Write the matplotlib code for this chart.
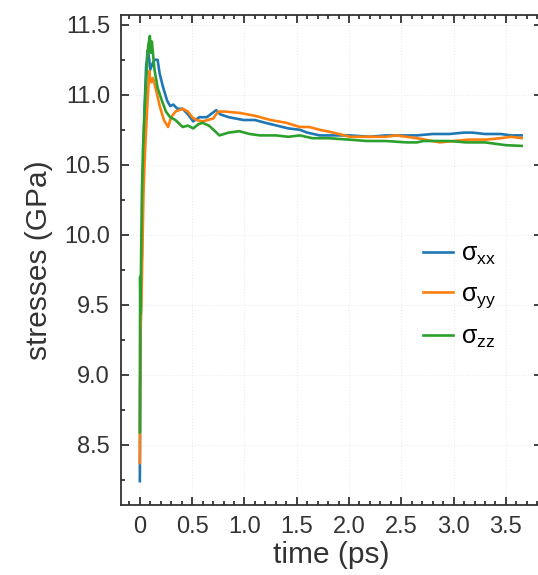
import matplotlib
matplotlib.use("Agg")
import matplotlib.pyplot as plt
from matplotlib.ticker import MultipleLocator

plt.rcParams['font.family'] = ['Liberation Sans', 'DejaVu Sans']
plt.rcParams['mathtext.fontset'] = 'custom'
plt.rcParams['mathtext.rm'] = 'Liberation Sans'
plt.rcParams['mathtext.it'] = 'Liberation Sans'
plt.rcParams['mathtext.default'] = 'regular'

# ---- data ----
t_xx = [0.0, 0.004, 0.01, 0.02, 0.03, 0.045, 0.06, 0.077, 0.09, 0.10, 0.12, 0.14, 0.17, 0.19, 0.22, 0.26,
        0.29, 0.32, 0.36, 0.41, 0.46, 0.51, 0.57, 0.64, 0.73, 0.77, 0.85, 0.99, 1.10, 1.20, 1.31, 1.42,
        1.53, 1.60, 1.72, 1.85, 2.01, 2.20, 2.35, 2.49, 2.65, 2.80, 2.96, 3.10, 3.18, 3.30, 3.45, 3.55, 3.65]
s_xx = [8.24, 8.9, 9.5, 9.9, 10.4, 10.9, 11.2, 11.32, 11.25, 11.18, 11.22, 11.25, 11.25, 11.15, 11.06, 10.96,
        10.92, 10.93, 10.90, 10.90, 10.86, 10.81, 10.84, 10.84, 10.89, 10.86, 10.84, 10.82, 10.82, 10.80, 10.78, 10.76,
        10.75, 10.73, 10.71, 10.71, 10.71, 10.70, 10.71, 10.71, 10.71, 10.72, 10.72, 10.73, 10.73, 10.72, 10.72, 10.71, 10.71]

t_yy = [0.0, 0.005, 0.015, 0.025, 0.035, 0.05, 0.07, 0.09, 0.10, 0.11, 0.125, 0.15, 0.19, 0.23, 0.27, 0.30,
        0.34, 0.41, 0.46, 0.50, 0.54, 0.60, 0.65, 0.70, 0.75, 0.82, 0.96, 1.10, 1.25, 1.40, 1.53, 1.62,
        1.72, 1.85, 2.01, 2.20, 2.35, 2.45, 2.65, 2.87, 3.00, 3.15, 3.31, 3.45, 3.55, 3.65]
s_yy = [8.37, 9.3, 9.5, 9.9, 10.3, 10.6, 10.9, 11.17, 11.1, 11.09, 11.12, 11.05, 10.92, 10.82, 10.77, 10.84,
        10.88, 10.90, 10.88, 10.84, 10.82, 10.81, 10.82, 10.83, 10.88, 10.88, 10.87, 10.85, 10.82, 10.80, 10.77, 10.77,
        10.75, 10.73, 10.70, 10.70, 10.70, 10.71, 10.69, 10.66, 10.67, 10.68, 10.68, 10.69, 10.70, 10.69]

t_zz = [0.0, 0.003, 0.006, 0.01, 0.015, 0.02, 0.03, 0.04, 0.06, 0.08, 0.096, 0.105, 0.115, 0.14, 0.17, 0.21,
        0.25, 0.29, 0.34, 0.41, 0.46, 0.51, 0.56, 0.60, 0.66, 0.72, 0.76, 0.85, 0.95, 1.05, 1.15, 1.30, 1.42,
        1.53, 1.65, 1.80, 2.00, 2.17, 2.35, 2.55, 2.65, 2.71, 2.85, 2.96, 3.12, 3.30, 3.50, 3.65]
s_zz = [8.59, 9.70, 9.44, 9.70, 10.0, 10.3, 10.61, 10.8, 11.1, 11.35, 11.42, 11.3, 11.38, 11.18, 11.05, 10.96,
        10.88, 10.84, 10.82, 10.77, 10.78, 10.76, 10.79, 10.80, 10.78, 10.74, 10.71, 10.73, 10.74, 10.72, 10.71, 10.71, 10.70,
        10.71, 10.69, 10.69, 10.68, 10.67, 10.67, 10.66, 10.66, 10.67, 10.67, 10.67, 10.66, 10.66, 10.64, 10.635]

labels = [r'$\sigma_{xx}$', r'$\sigma_{yy}$', r'$\sigma_{zz}$']
colors = ['#1f77b4', '#ff7f0e', '#2ca02c']
xtick_vals = [0, 0.5, 1.0, 1.5, 2.0, 2.5, 3.0, 3.5]
xtick_labels = ['0', '0.5', '1.0', '1.5', '2.0', '2.5', '3.0', '3.5']

fig = plt.figure(figsize=(5.38, 5.75), dpi=100)
ax = fig.add_axes([121/538, 70/575, 421/538, 490/575])

for t, s, lab, c in zip([t_xx, t_yy, t_zz], [s_xx, s_yy, s_zz], labels, colors):
    ax.plot(t, s, color=c, lw=1.9, label=lab)

ax.set_xlim(-0.18, 3.845)
ax.set_ylim(8.07, 11.57)
ax.xaxis.set_minor_locator(MultipleLocator(0.1))
ax.yaxis.set_major_locator(MultipleLocator(0.5))
ax.yaxis.set_minor_locator(MultipleLocator(0.25))
ax.set_xticks(xtick_vals)
ax.set_xticklabels(xtick_labels)

ax.grid(True, which='major', color='#ececec', lw=0.8, ls=':')
ax.tick_params(which='both', direction='in', top=True, right=True, colors='#222222',
               labelcolor='#333333', labelsize=17, width=1.2)
ax.tick_params(which='major', length=6, pad=8)
ax.tick_params(which='minor', length=3)
for sp in ax.spines.values():
    sp.set_color('#333333')
    sp.set_linewidth(1.3)

ax.set_xlabel('time (ps)', fontsize=21.5, color='#333333', labelpad=2)
ax.set_ylabel('stresses (GPa)', fontsize=21.5, color='#333333', labelpad=8)

ax.legend(loc='center left', bbox_to_anchor=(0.664, 0.4265), frameon=False, fontsize=18,
          handlelength=1.2, labelspacing=0.6, handletextpad=0.3)

fig.savefig('out.png', dpi=100)
